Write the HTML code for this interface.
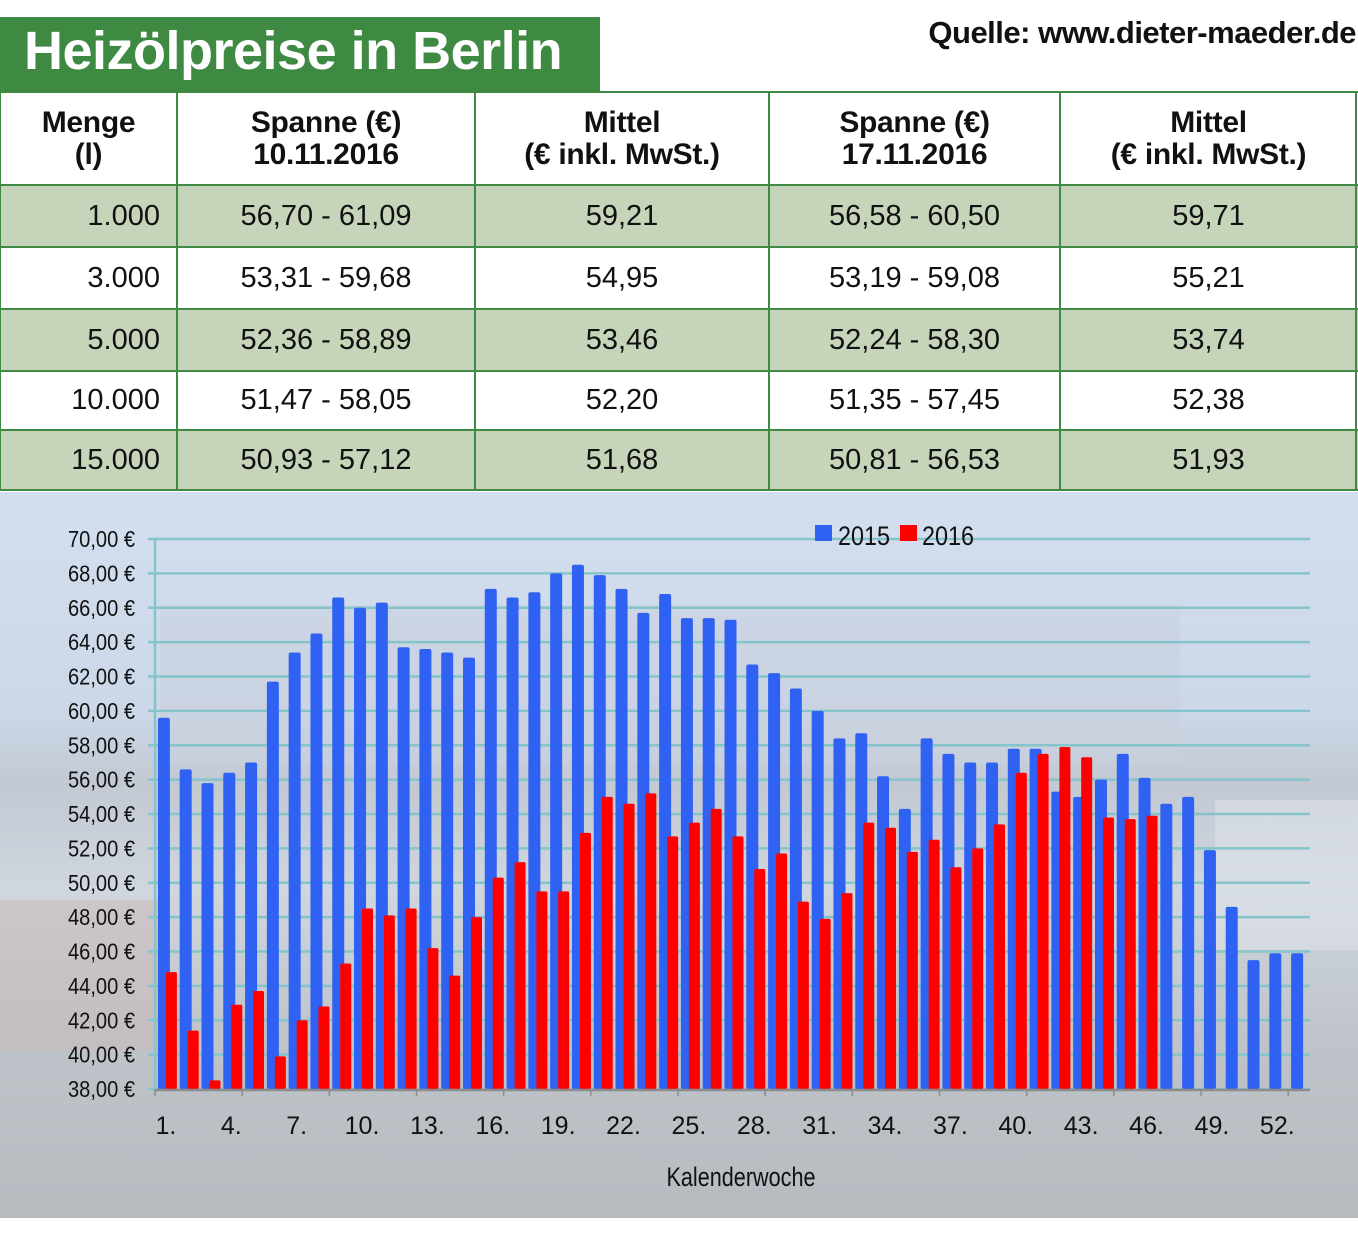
<!DOCTYPE html>
<html><head><meta charset="utf-8">
<style>
body{margin:0;width:1358px;height:1243px;background:#fff;position:relative;overflow:hidden;font-family:"Liberation Sans",sans-serif;}
.abs{position:absolute;}
#title{left:0;top:17px;width:600px;height:75px;background:#3f8a43;color:#fff;font-weight:bold;font-size:54px;line-height:68px;padding-left:24px;box-sizing:border-box;letter-spacing:-0.5px;white-space:nowrap;}
#source{left:700px;top:15px;width:656px;text-align:right;font-weight:bold;font-size:31px;color:#111;letter-spacing:-0.5px;white-space:nowrap;}
.cell{position:absolute;box-sizing:border-box;color:#111;display:flex;align-items:center;justify-content:center;text-align:center;}
.hd{font-weight:bold;font-size:30px;line-height:32px;letter-spacing:-0.3px;}
.bd{font-size:29px;}
.line{position:absolute;background:#3f8a43;}
</style></head>
<body>
<div id="title" class="abs">Heizölpreise in Berlin</div>
<div id="source" class="abs">Quelle: www.dieter-maeder.de</div>
<div id="table"></div>
<svg id="chart" class="abs" style="left:0;top:0" width="1358" height="1243">
<defs>
<linearGradient id="bg" x1="0" y1="0" x2="0" y2="1">
<stop offset="0" stop-color="#d3dfee"/>
<stop offset="0.3" stop-color="#ccd8e8"/>
<stop offset="0.4" stop-color="#c2c9d3"/>
<stop offset="0.55" stop-color="#cfd6de"/>
<stop offset="0.75" stop-color="#bfc4ca"/>
<stop offset="1" stop-color="#b7bbc0"/>
</linearGradient>
</defs>
<rect x="0" y="492" width="1358" height="726" fill="url(#bg)"/>
<rect x="160" y="605" width="1020" height="160" fill="#c9d1de" opacity="0.6"/>
<rect x="0" y="900" width="160" height="150" fill="#c9b7b8" opacity="0.5"/>
<rect x="1215" y="800" width="143" height="150" fill="#e2e6eb" opacity="0.5"/>
<g id="plot"></g>
</svg>
<script>
// ---- table data ----
const tblHeaders = [["Menge","(l)"],["Spanne (€)","10.11.2016"],["Mittel","(€ inkl. MwSt.)"],["Spanne (€)","17.11.2016"],["Mittel","(€ inkl. MwSt.)"]];
const tblMenge = ["1.000","3.000","5.000","10.000","15.000"];
const tblSpanne1 = ["56,70 - 61,09","53,31 - 59,68","52,36 - 58,89","51,47 - 58,05","50,93 - 57,12"];
const tblMittel1 = ["59,21","54,95","53,46","52,20","51,68"];
const tblSpanne2 = ["56,58 - 60,50","53,19 - 59,08","52,24 - 58,30","51,35 - 57,45","50,81 - 56,53"];
const tblMittel2 = ["59,71","55,21","53,74","52,38","51,93"];

// ---- chart data ----
const yTicks = [38,40,42,44,46,48,50,52,54,56,58,60,62,64,66,68,70];
const xTickLabels = [1,4,7,10,13,16,19,22,25,28,31,34,37,40,43,46,49,52];
const series2015 = [59.6,56.6,55.8,56.4,57.0,61.7,63.4,64.5,66.6,66.0,66.3,63.7,63.6,63.4,63.1,67.1,66.6,66.9,68.0,68.5,67.9,67.1,65.7,66.8,65.4,65.4,65.3,62.7,62.2,61.3,60.0,58.4,58.7,56.2,54.3,58.4,57.5,57.0,57.0,57.8,57.8,55.3,55.0,56.0,57.5,56.1,54.6,55.0,51.9,48.6,45.5,45.9,45.9];
const series2016 = [44.8,41.4,38.5,42.9,43.7,39.9,42.0,42.8,45.3,48.5,48.1,48.5,46.2,44.6,48.0,50.3,51.2,49.5,49.5,52.9,55.0,54.6,55.2,52.7,53.5,54.3,52.7,50.8,51.7,48.9,47.9,49.4,53.5,53.2,51.8,52.5,50.9,52.0,53.4,56.4,57.5,57.9,57.3,53.8,53.7,53.9];
const legendLabels = ["2015","2016"];

const NS="http://www.w3.org/2000/svg";
// table
(function(){
  const t=document.getElementById('table');
  const cols=[0,177,475,769,1060,1357];
  const rows=[92,185,247,309,371,430,490];
  const cn=['menge','spanne-10-11','mittel-10-11','spanne-17-11','mittel-17-11'];
  for(let r=1;r<=5;r++){ if(r%2===1){const f=document.createElement('div');f.className='abs';f.style.cssText=`left:0;top:${rows[r]}px;width:1358px;height:${rows[r+1]-rows[r]}px;background:#c6d4b9;`;
    
    
    t.appendChild(f);} }
  const bodies=[tblMenge,tblSpanne1,tblMittel1,tblSpanne2,tblMittel2];
  for(let c=0;c<5;c++){
    const h=document.createElement('div');h.className='cell hd';
    h.style.cssText=`left:${cols[c]}px;top:${rows[0]}px;width:${cols[c+1]-cols[c]}px;height:${rows[1]-rows[0]}px;`;
    h.innerHTML=tblHeaders[c][0]+'<br>'+tblHeaders[c][1];
    
    
    t.appendChild(h);
    for(let r=0;r<5;r++){
      const d=document.createElement('div');d.className='cell bd';
      d.style.cssText=`left:${cols[c]}px;top:${rows[r+1]}px;width:${cols[c+1]-cols[c]}px;height:${rows[r+2]-rows[r+1]}px;`+(c===0?'justify-content:flex-end;padding-right:17px;':'');
      d.textContent=bodies[c][r];
      
      
      t.appendChild(d);
    }
  }
  rows.forEach(y=>{const l=document.createElement('div');l.className='line';l.style.cssText=`left:0;top:${y-1}px;width:1358px;height:2px;`;
    
    
    t.appendChild(l);});
  cols.forEach(x=>{const l=document.createElement('div');l.className='line';l.style.cssText=`left:${Math.min(x,1356)-1}px;top:92px;width:2px;height:398px;`;
    
    
    t.appendChild(l);});
})();

// chart
(function(){
  const g=document.getElementById('plot');
  const X0=155,X1=1310,Y0=1089,Y1=539,yMin=38,yMax=70,n=53;
  const cw=(X1-X0)/n;
  const y=v=>Y0-(v-yMin)/(yMax-yMin)*(Y0-Y1);
  const cx=i=>X0+cw*(i+0.5);
  function el(tag,attrs,name,text){const e=document.createElementNS(NS,tag);for(const k in attrs)e.setAttribute(k,attrs[k]);
    
    
    if(text!==undefined)e.textContent=text;g.appendChild(e);return e;}
  yTicks.forEach(v=>{
    el('line',{x1:X0-7,x2:X1,y1:y(v),y2:y(v),stroke:'#86c4cc','stroke-width':2.5},'gridline');
    el('text',{x:135,y:y(v)+8,'text-anchor':'end','font-size':23,'font-family':'Liberation Sans Narrow, Liberation Sans, sans-serif',fill:'#111',textLength:67,lengthAdjust:'spacingAndGlyphs'},'y-tick-label',v.toFixed(2).replace('.',',')+' €');
  });
  el('line',{x1:X0,x2:X0,y1:Y1,y2:Y0,stroke:'#86c4cc','stroke-width':2.5},'y-axis-line');
  series2015.forEach((v,i)=>{
    el('rect',{x:cx(i)-8,y:y(v),width:12,height:Y0-y(v),fill:'#2f62f2',rx:2},'bar-2015');
  });
  series2016.forEach((v,i)=>{
    el('rect',{x:cx(i),y:y(v),width:11,height:Y0-y(v),fill:'#ff0000',rx:1.5},'bar-2016');
  });
  el('line',{x1:X0,x2:X1,y1:Y0+1,y2:Y0+1,stroke:'#8c8c8c','stroke-width':2.5},'x-axis-line');
  for(let k=0;k<=n;k+=4){el('line',{x1:X0+k*cw,x2:X0+k*cw,y1:Y0,y2:Y0+7,stroke:'#8c8c8c','stroke-width':1.5},'x-tick');}
  xTickLabels.forEach(w=>{
    el('text',{x:cx(w-1),y:1134,'text-anchor':'middle','font-size':25,'font-family':'Liberation Sans Narrow, Liberation Sans, sans-serif',fill:'#111'},'x-tick-label',w+'.');
  });
  el('text',{x:741,y:1186,'text-anchor':'middle','font-size':27,'font-family':'Liberation Sans Narrow, Liberation Sans, sans-serif',fill:'#111',textLength:149,lengthAdjust:'spacingAndGlyphs'},'x-axis-title','Kalenderwoche');
  el('rect',{x:815,y:525,width:17,height:16,fill:'#2f62f2'},'legend-swatch-2015');
  el('text',{x:838,y:545,'font-size':27,'font-family':'Liberation Sans Narrow, Liberation Sans, sans-serif',fill:'#111',textLength:52,lengthAdjust:'spacingAndGlyphs'},'legend-entry-2015',legendLabels[0]);
  el('rect',{x:900,y:525,width:17,height:16,fill:'#ff0000'},'legend-swatch-2016');
  el('text',{x:922,y:545,'font-size':27,'font-family':'Liberation Sans Narrow, Liberation Sans, sans-serif',fill:'#111',textLength:52,lengthAdjust:'spacingAndGlyphs'},'legend-entry-2016',legendLabels[1]);
})();
</script>
</body></html>
